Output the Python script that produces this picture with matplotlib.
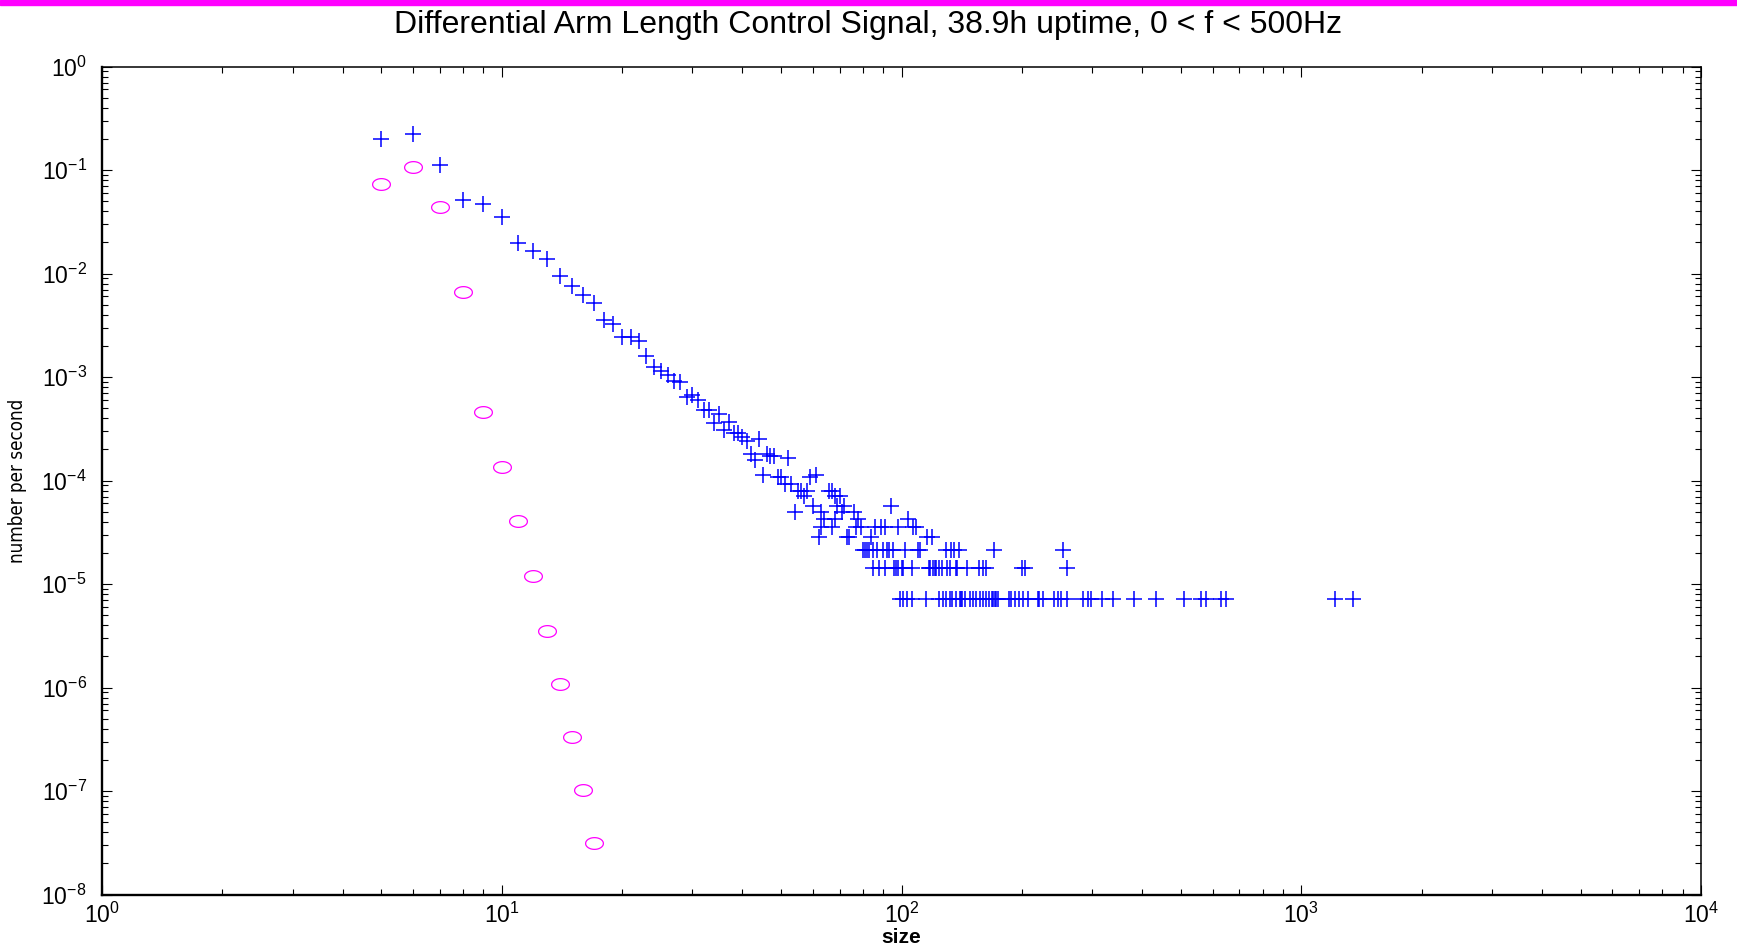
import numpy as np
import matplotlib
matplotlib.use("Agg")
import matplotlib.pyplot as plt
from matplotlib.path import Path
from matplotlib.patches import Rectangle
from matplotlib import font_manager

plt.rcParams['font.family'] = ['Liberation Sans', 'DejaVu Sans']
plt.rcParams['mathtext.fontset'] = 'custom'
plt.rcParams['mathtext.rm'] = 'Liberation Sans'
plt.rcParams['mathtext.it'] = 'Liberation Sans'
plt.rcParams['mathtext.default'] = 'regular'

# ---------------- data ----------------
TITLE = "Differential Arm Length Control Signal, 38.9h uptime, 0 < f < 500Hz"
UPTIME_S = 38.9 * 3600.0

# Gaussian expectation (magenta circles)
circ_size = [5, 6, 7, 8, 9, 10, 11, 12, 13, 14, 15, 16, 17]
circ_rate = [0.0740, 0.106, 0.0437, 0.00660, 4.57e-4, 1.36e-4, 4.07e-5,
             1.19e-5, 3.55e-6, 1.09e-6, 3.33e-7, 1.02e-7, 3.13e-8]

# measured events, steep part (rates read directly)
steep_size = [5, 6, 7, 8, 9, 10, 11, 12, 13, 14, 15, 16, 17, 18, 19, 20, 21,
              22, 23, 24, 25, 26, 27, 28, 29, 30, 31, 32, 33]
steep_rate = [0.198, 0.223, 0.113, 0.0510, 0.0474, 0.0350, 0.0199, 0.0166,
              0.0137, 0.00950, 0.00750, 0.00620, 0.00515, 0.00356, 0.00328,
              0.00241, 0.00241, 0.00222, 0.00160, 0.00126, 0.00114, 0.00104,
              9.1e-4, 9.0e-4, 6.45e-4, 6.7e-4, 6.0e-4, 4.8e-4, 4.8e-4]

# measured events, middle part (event counts)
mid_size = [34, 35, 36, 37, 38, 39, 40, 41, 42, 43, 44, 45, 46, 47, 48, 49,
            50, 51, 52, 53, 55, 56, 57, 58, 59, 61, 66, 67, 68, 70]
mid_count = [50, 62, 43, 51, 40, 40, 37, 34, 25, 22, 35, 16, 25, 24, 24, 15,
             15, 13, 23, 13, 11, 11, 10, 11, 15, 16, 11, 11, 10, 10]

# measured events, tail: sizes seen with n events
sizes_n8 = [60, 69, 72, 94]
sizes_n7 = [54, 63, 71, 76]
sizes_n6 = [64, 68, 78, 104]
sizes_n5 = [63, 67, 77, 79, 86, 89, 91, 98, 107, 109]
sizes_n4 = [62, 73, 74, 84, 116, 119]
sizes_n3 = [80, 81, 82, 83, 85, 87, 90, 92, 93, 95, 102, 110, 111, 129, 133,
            135, 139, 170, 253]
sizes_n2 = [85, 88, 91, 96, 97, 98, 100, 101, 106, 117, 118, 120, 121, 122,
            124, 126, 130, 132, 137, 138, 146, 156, 160, 163, 200, 204, 260]
sizes_n1 = [99, 101, 103, 106, 115, 124, 127, 129, 132, 134, 137, 140, 141,
            142, 144, 148, 151, 154, 157, 160, 163, 166, 168, 169, 171, 172,
            174, 186, 188, 192, 197, 201, 207, 219, 221, 226, 241, 246, 251,
            260, 285, 292, 298, 317, 338, 382, 432, 510, 561, 578, 630, 648,
            1214, 1349]

XLIM = (1, 1e4)
YLIM = (1e-8, 1)

# --------------- assemble ---------------
ev_size = list(steep_size) + list(mid_size)
ev_rate = list(steep_rate) + [c / UPTIME_S for c in mid_count]
for n, lst in [(8, sizes_n8), (7, sizes_n7), (6, sizes_n6), (5, sizes_n5),
               (4, sizes_n4), (3, sizes_n3), (2, sizes_n2), (1, sizes_n1)]:
    ev_size += list(lst)
    ev_rate += [n / UPTIME_S] * len(lst)


def narrow_font(size):
    """Find a condensed / narrow sans font if one is installed."""
    cands = []
    for f in font_manager.fontManager.ttflist:
        name = f.name.lower()
        fn = f.fname.lower()
        if f.style != 'normal' or f.weight not in (400, 'normal', 'regular'):
            continue
        if 'mono' in name or 'mono' in fn or 'serif' in fn.replace('sans', ''):
            continue
        if ('narrow' in name or 'condensed' in name or 'narrow' in fn
                or 'condensed' in fn or f.stretch in ('condensed', 'semi-condensed')):
            pri = 0 if 'liberation' in fn else (1 if 'dejavu' in fn else 2)
            cands.append((pri, f.fname))
    if cands:
        cands.sort()
        return font_manager.FontProperties(fname=cands[0][1], size=size), True
    return font_manager.FontProperties(family='Liberation Sans', size=size * 0.85), False


# --------------- figure ---------------
fig = plt.figure(figsize=(17.37, 9.50), dpi=100)
ax = fig.add_axes([0.0587, 0.0584, 0.9206, 0.8716])

t = np.linspace(0, 2 * np.pi, 60)
ellipse = Path(np.column_stack([np.cos(t), 0.66 * np.sin(t)]), closed=True)

ax.plot(circ_size, circ_rate, linestyle='none', marker=ellipse,
        markersize=12.8, markerfacecolor='none', markeredgecolor='#ff00ff',
        markeredgewidth=0.9)
ax.plot(ev_size, ev_rate, linestyle='none', marker='+', markersize=11.5,
        color='#0000ff', markeredgewidth=1.1)

ax.set_xscale('log')
ax.set_yscale('log')
ax.set_xlim(*XLIM)
ax.set_ylim(*YLIM)

ax.tick_params(which='both', direction='in', top=True, right=True,
               width=0.8, labelsize=16.5)
ax.tick_params(which='major', length=7.5)
ax.tick_params(which='minor', length=4)
ax.tick_params(axis='x', which='major', pad=6)
ax.tick_params(axis='y', which='major', pad=11)
ax.yaxis.set_major_locator(matplotlib.ticker.LogLocator(base=10, numticks=20))
ax.yaxis.set_minor_locator(matplotlib.ticker.LogLocator(base=10, subs=np.arange(2, 10), numticks=20))
ax.yaxis.set_minor_formatter(matplotlib.ticker.NullFormatter())
ax.xaxis.set_minor_formatter(matplotlib.ticker.NullFormatter())

for side in ['left', 'bottom']:
    ax.spines[side].set_linewidth(1.7)
for side in ['top', 'right']:
    ax.spines[side].set_linewidth(1.1)

fig.text(0.5, 0.974, TITLE, ha='center', va='center', fontsize=23)
ax.set_xlabel('size', fontsize=15, fontweight='bold', labelpad=0)
ax.xaxis.set_label_coords(0.5, -0.041)
fp, _ = narrow_font(13.5)
ax.set_ylabel('number per second', fontproperties=fp)
ax.yaxis.set_label_coords(-0.047, 0.5)

fig.patches.append(Rectangle((0, 1 - 5 / 950), 1, 5 / 950,
                             transform=fig.transFigure, color='#ff00ff',
                             zorder=10))

fig.savefig('out.png', dpi=100, facecolor='white')
